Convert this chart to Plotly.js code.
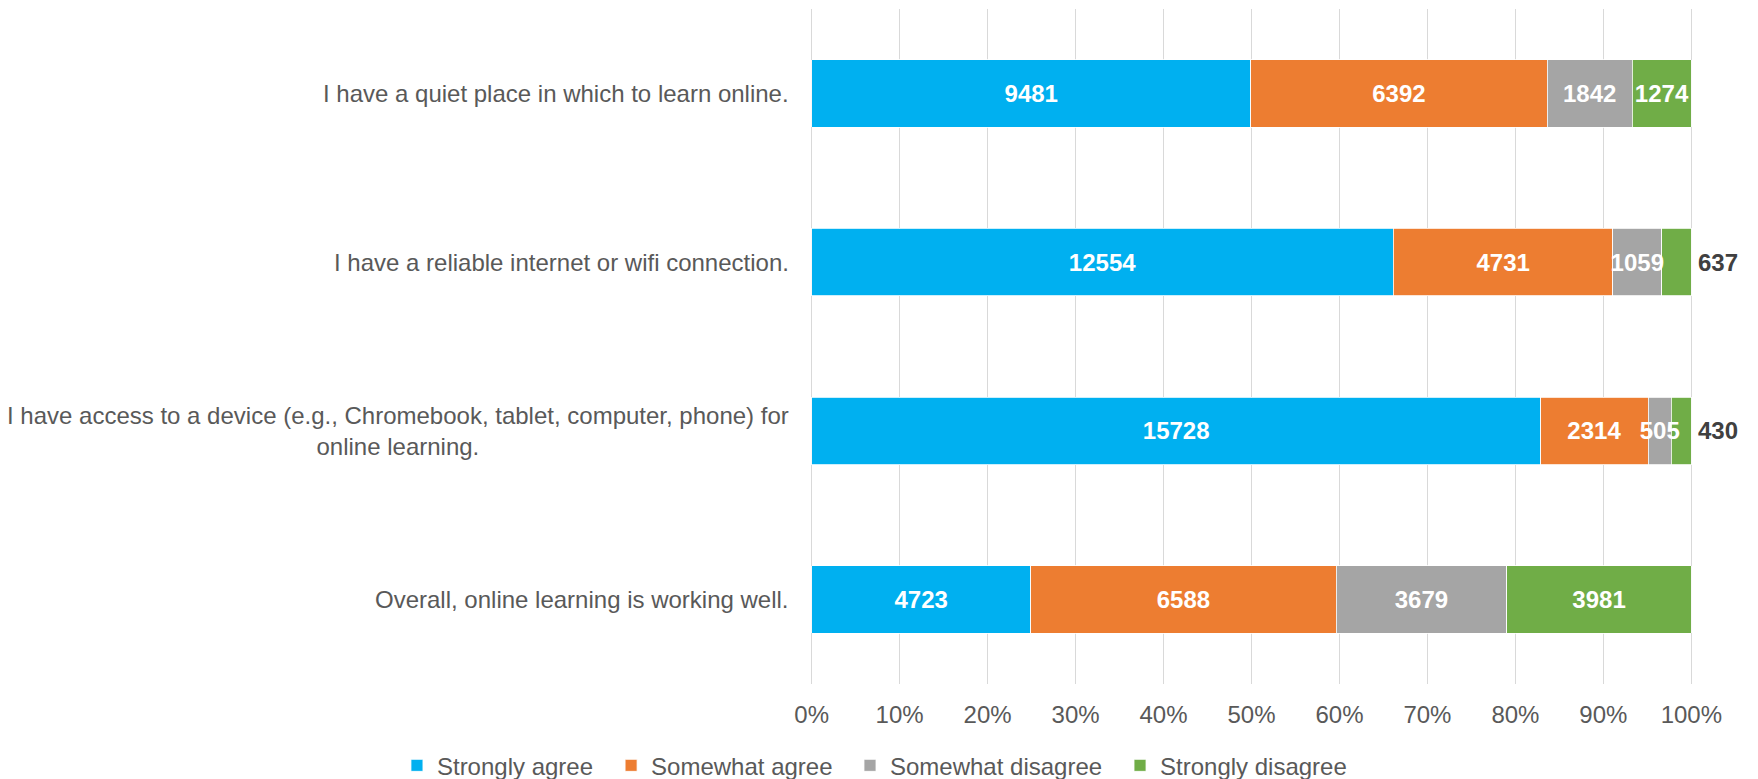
<!DOCTYPE html>
<html>
<head>
<meta charset="utf-8">
<script src="https://cdn.plot.ly/plotly-3.0.1.min.js"></script>
<style>html,body{margin:0;padding:0;background:#fff;}#chart{width:1758px;height:779px;}</style>
</head>
<body>
<div id="chart"></div>
<script>
const categories = [
  "I have a quiet place in which to learn online.",
  "I have a reliable internet or wifi connection.",
  "I have access to a device (e.g., Chromebook, tablet, computer, phone) for<br>online learning.",
  "Overall, online learning is working well."
];
const seriesNames = ["Strongly agree", "Somewhat agree", "Somewhat disagree", "Strongly disagree"];
const stronglyAgree = [9481, 12554, 15728, 4723];
const somewhatAgree = [6392, 4731, 2314, 6588];
const somewhatDisagree = [1842, 1059, 505, 3679];
const stronglyDisagree = [1274, 637, 430, 3981];
const colors = ["#00B0F0", "#ED7D31", "#A5A5A5", "#70AD47"];
// labels of the last series that are written beside the bar instead of inside it
const outsideLabel = [false, true, true, false];
const xTickSuffix = "%";

const seriesValues = [stronglyAgree, somewhatAgree, somewhatDisagree, stronglyDisagree];
const FONT = "Liberation Sans, Arial, sans-serif";
const lastIdx = seriesValues.length - 1;
const legendIds = ["legend", "legend2", "legend3", "legend4"];
const legendX = [0.2258, 0.3476, 0.4835, 0.6371];

const data = seriesValues.map((vals, i) => ({
  type: "bar",
  orientation: "h",
  name: seriesNames[i],
  legend: legendIds[i],
  y: categories,
  x: vals,
  text: vals.map(String),
  textposition: vals.map((v, j) => (i === lastIdx && outsideLabel[j]) ? "none" : "inside"),
  textangle: 0,
  constraintext: "none",
  insidetextanchor: "middle",
  insidetextfont: {family: FONT, size: 24, color: "#FFFFFF", weight: "bold"},
  cliponaxis: false,
  marker: {color: colors[i], line: {color: "#FFFFFF", width: 0.8}},
  hoverinfo: "skip"
}));

const annotations = categories.map(c => ({
  xref: "paper", yref: "y", x: 0, y: c,
  text: c, showarrow: false,
  xanchor: "right", yanchor: "middle", align: "center",
  xshift: -18,
  font: {family: FONT, size: 24, color: "#595959"}
}));
categories.forEach((c, j) => {
  if (outsideLabel[j]) {
    annotations.push({
      xref: "x", yref: "y", x: 100, y: c,
      text: String(stronglyDisagree[j]), showarrow: false,
      xanchor: "left", yanchor: "middle", xshift: 5,
      font: {family: FONT, size: 24, color: "#404040", weight: "bold"}
    });
  }
});

const layout = {
  width: 1758, height: 779,
  margin: {l: 809.4, r: 64.4, t: 9, b: 95},
  paper_bgcolor: "#FFFFFF", plot_bgcolor: "#FFFFFF",
  barmode: "stack", barnorm: "percent", bargap: 0.6,
  font: {family: FONT, size: 24, color: "#595959"},
  showlegend: true,
  xaxis: {
    range: [-0.3, 100.3], dtick: 10, tick0: 0, ticksuffix: xTickSuffix,
    showgrid: true, gridcolor: "#D9D9D9", gridwidth: 1.3,
    zeroline: false, showline: false, ticks: "",
    tickfont: {family: FONT, size: 24, color: "#595959"},
    ticklabelstandoff: 14, fixedrange: true
  },
  yaxis: {
    autorange: "reversed", showticklabels: false, showgrid: false,
    zeroline: false, showline: false, ticks: "", fixedrange: true
  },
  annotations: annotations
};
legendIds.forEach((id, i) => {
  layout[id] = {
    orientation: "h", xref: "container", yref: "container",
    x: legendX[i], xanchor: "left", y: 0.017, yanchor: "middle",
    font: {family: FONT, size: 24, color: "#595959"},
    bgcolor: "rgba(0,0,0,0)",
    itemclick: false, itemdoubleclick: false
  };
});

const gd = document.getElementById("chart");
Plotly.newPlot(gd, data, layout, {displayModeBar: false, staticPlot: true}).then(() => {
  // draw the value labels above every bar segment, so overflowing labels stay visible
  const layer = gd.querySelector(".barlayer");
  if (!layer) return;
  const top = document.createElementNS("http://www.w3.org/2000/svg", "g");
  layer.appendChild(top);
  layer.querySelectorAll("text.bartext").forEach(t => top.appendChild(t));
});
</script>
</body>
</html>
